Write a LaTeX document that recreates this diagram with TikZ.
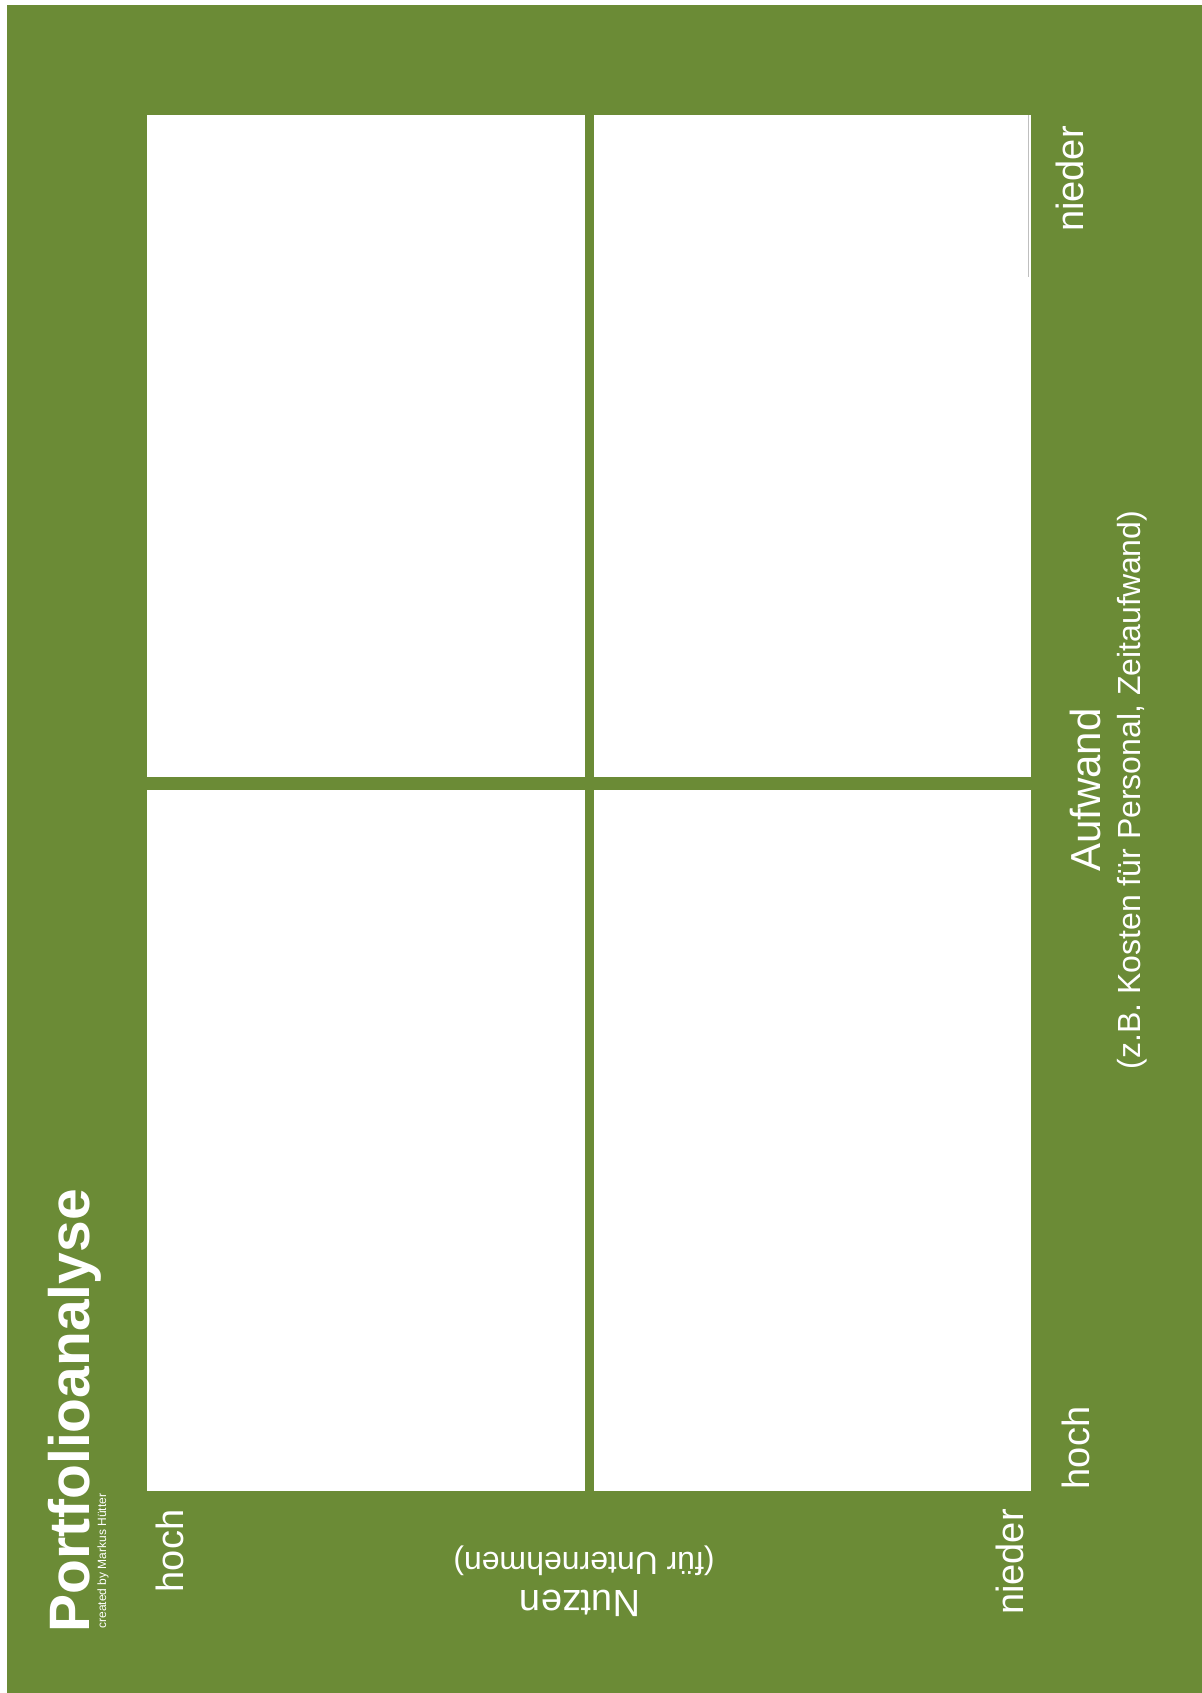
\documentclass[tikz,border=0pt]{standalone}
\usepackage{fontspec}
\setmainfont{Liberation Sans}
\definecolor{portgreen}{RGB}{107,139,54}

\begin{document}
\begin{tikzpicture}[x=0.5pt, y=-0.5pt,
    feld/.style={fill=white},
    schrift/.style={text=white, inner sep=0pt, anchor=base},
    achse/.style={schrift, rotate=90, font=\fontsize{19}{23}\selectfont}]
    \useasboundingbox (0,0) rectangle (1202,1693);
    \fill[portgreen] (7,5) rectangle (1202,1693);
    % die vier Felder
    \fill[feld] (147,115) rectangle (585,777);
    \fill[feld] (594,115) rectangle (1031,777);
    \fill[feld] (147,790) rectangle (585,1491);
    \fill[feld] (594,790) rectangle (1031,1491);
    \draw[black!25, line width=0.4pt] (1028,115) -- (1028,277);
    % Titel
    \node[schrift, anchor=base west, rotate=90, font=\fontsize{28.5}{32}\selectfont\bfseries] (titel) at (90,1633) {Portfolioanalyse};
    \node[schrift, anchor=base west, rotate=90, font=\fontsize{6}{7}\selectfont] (autor) at (106,1629) {created by Markus Hütter};
    % Nutzen-Achse
    \node[achse] (nutzenhoch) at (183,1551) {hoch};
    \node[achse] (nutzennieder) at (1023,1562) {nieder};
    \node[schrift, rotate=180, font=\fontsize{19}{23}\selectfont] (nutzen) at (580,1590) {Nutzen};
    \node[schrift, rotate=180, font=\fontsize{16}{19}\selectfont] (nutzenzusatz) at (584,1552) {(für Unternehmen)};
    % Aufwand-Achse
    \node[achse] (aufwandhoch) at (1089,1448) {hoch};
    \node[achse] (aufwandnieder) at (1083,179) {nieder};
    \node[achse, font=\fontsize{21}{25}\selectfont] (aufwand) at (1100,790) {Aufwand};
    \node[achse, font=\fontsize{16}{19}\selectfont] (aufwandzusatz) at (1140,790) {(z.B. Kosten für Personal, Zeitaufwand)};
\end{tikzpicture}
\end{document}
